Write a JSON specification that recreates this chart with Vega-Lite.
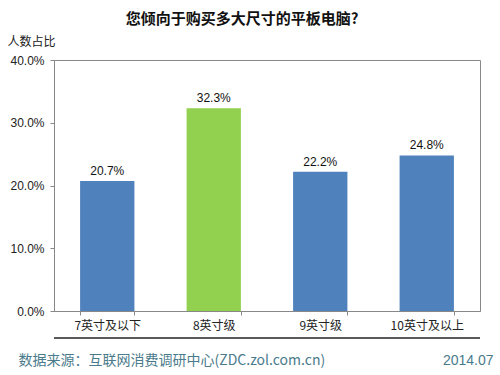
{
  "$schema": "https://vega.github.io/schema/vega-lite/v6.json",
  "width": 426,
  "height": 251,
  "autosize": {"type": "none"},
  "padding": {"left": 54, "top": 60, "right": 20, "bottom": 64},
  "background": "white",
  "title": {
    "text": "您倾向于购买多大尺寸的平板电脑?",
    "font": "Noto Sans CJK SC",
    "fontSize": 15,
    "fontWeight": "bold",
    "color": "#111",
    "anchor": "middle",
    "frame": "group",
    "dx": -25,
    "offset": 8
  },
  "config": {
    "view": {"stroke": "#888", "strokeWidth": 1},
    "font": "Liberation Sans"
  },
  "data": {
    "values": [
      {"size": "7英寸及以下", "pct": 0.207},
      {"size": "8英寸级", "pct": 0.323},
      {"size": "9英寸级", "pct": 0.222},
      {"size": "10英寸及以上", "pct": 0.248}
    ]
  },
  "layer": [
    {
      "data": {"values": [{"line": -0.043}]},
      "mark": {"type": "rule", "color": "#222", "strokeWidth": 1.5, "clip": false},
      "encoding": {
        "y": {"field": "line", "type": "quantitative", "scale": {"domain": [0, 0.4], "clamp": false, "nice": false, "zero": false}, "axis": null}
      }
    },
    {
      "mark": {"type": "bar"},
      "encoding": {
        "x": {
          "field": "size",
          "type": "nominal",
          "sort": null,
          "scale": {"paddingInner": 0.49, "paddingOuter": 0.245},
          "axis": {
            "labelAngle": 0,
            "labelFont": "Noto Sans CJK SC",
            "labelFontSize": 12,
            "labelColor": "#222",
            "labelPadding": 5,
            "tickBand": "extent",
            "tickColor": "#888",
            "tickSize": 4,
            "domainColor": "#888",
            "title": "数据来源：互联网消费调研中心(ZDC.zol.com.cn)",
            "titleFont": "Noto Sans CJK SC",
            "titleFontSize": 14,
            "titleFontWeight": "normal",
            "titleColor": "#4a7b8c",
            "titleAnchor": "start",
            "titleAlign": "left",
            "titleBaseline": "middle",
            "titleX": -36,
            "titleY": 49
          }
        },
        "y": {
          "field": "pct",
          "type": "quantitative",
          "scale": {"domain": [0, 0.4], "clamp": false},
          "axis": {
            "format": ".1%",
            "values": [0, 0.1, 0.2, 0.3, 0.4],
            "labelFontSize": 12,
            "labelColor": "#222",
            "labelPadding": 6,
            "tickColor": "#888",
            "tickSize": 4,
            "domainColor": "#888",
            "gridColor": "#888",
            "gridOpacity": 1,
            "title": "人数占比",
            "titleFont": "Noto Sans CJK SC",
            "titleFontSize": 12,
            "titleFontWeight": "normal",
            "titleColor": "#222",
            "titleAngle": 0,
            "titleAlign": "left",
            "titleBaseline": "middle",
            "titleX": -47,
            "titleY": -19
          }
        },
        "color": {
          "field": "size",
          "type": "nominal",
          "scale": {
            "domain": ["7英寸及以下", "8英寸级", "9英寸级", "10英寸及以上"],
            "range": ["#4f81bd", "#92d050", "#4f81bd", "#4f81bd"]
          },
          "legend": null
        }
      }
    },
    {
      "mark": {"type": "text", "baseline": "bottom", "dy": -3, "fontSize": 12, "color": "#111"},
      "encoding": {
        "x": {"field": "size", "type": "nominal", "sort": null},
        "text": {"field": "pct", "type": "quantitative", "format": ".1%"},
        "y": {
          "field": "pct",
          "type": "quantitative",
          "scale": {"domain": [0, 0.4]},
          "axis": {
            "orient": "right",
            "labels": false,
            "ticks": false,
            "domain": false,
            "grid": false,
            "title": "2014.07",
            "titleFont": "Liberation Sans",
            "titleFontSize": 14,
            "titleFontWeight": "normal",
            "titleColor": "#4a7b8c",
            "titleAngle": 0,
            "titleAlign": "right",
            "titleBaseline": "middle",
            "titleX": 13,
            "titleY": 300
          }
        }
      }
    }
  ],
  "resolve": {"axis": {"y": "independent"}}
}
